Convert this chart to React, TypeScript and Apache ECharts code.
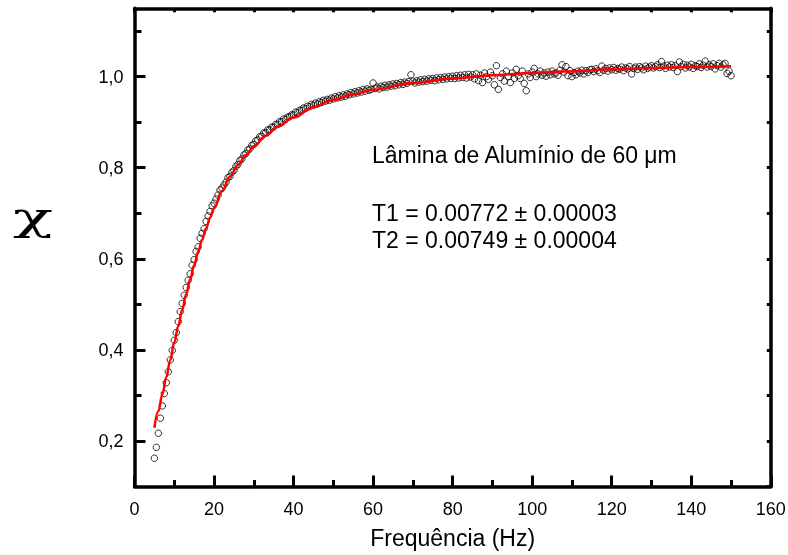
import React, { useEffect, useRef } from "react";
import * as echarts from "echarts";

// Measured susceptibility (χ) sampled every 0.5 Hz starting at 5 Hz
const freqStart = 5;
const freqStep = 0.5;
const chiValues = [
  0.162, 0.186, 0.217, 0.250, 0.277, 0.304, 0.328, 0.352, 0.378, 0.399,
  0.421, 0.438, 0.462, 0.484, 0.502, 0.520, 0.537, 0.553, 0.567, 0.586,
  0.598, 0.616, 0.626, 0.645, 0.656, 0.666, 0.682, 0.694, 0.704, 0.716,
  0.722, 0.731, 0.740, 0.751, 0.755, 0.762, 0.768, 0.778, 0.781, 0.790,
  0.794, 0.803, 0.807, 0.816, 0.819, 0.828, 0.831, 0.839, 0.841, 0.849,
  0.851, 0.859, 0.861, 0.868, 0.869, 0.876, 0.877, 0.883, 0.883, 0.889,
  0.889, 0.895, 0.895, 0.901, 0.901, 0.907, 0.906, 0.911, 0.912, 0.916,
  0.916, 0.922, 0.921, 0.926, 0.926, 0.931, 0.930, 0.935, 0.934, 0.939,
  0.937, 0.942, 0.940, 0.945, 0.943, 0.948, 0.946, 0.950, 0.948, 0.953,
  0.951, 0.956, 0.953, 0.958, 0.955, 0.960, 0.957, 0.962, 0.960, 0.965,
  0.962, 0.967, 0.964, 0.969, 0.966, 0.972, 0.968, 0.973, 0.970, 0.972,
  0.986, 0.974, 0.977, 0.973, 0.979, 0.976, 0.981, 0.977, 0.982, 0.979,
  0.984, 0.980, 0.985, 0.982, 0.987, 0.983, 0.988, 0.985, 0.989, 1.004,
  0.990, 0.986, 0.991, 0.988, 0.993, 0.989, 0.994, 0.990, 0.995, 0.992,
  0.996, 0.991, 0.997, 0.993, 0.998, 0.994, 0.999, 0.995, 1.000, 0.996,
  1.001, 0.996, 1.002, 0.997, 1.003, 0.998, 1.004, 0.997, 1.005, 0.999,
  1.004, 0.995, 1.006, 0.991, 1.003, 0.987, 1.008, 1.000, 0.994, 1.010,
  1.002, 0.982, 1.024, 0.972, 0.998, 1.006, 0.990, 1.012, 1.000, 0.987,
  1.008, 0.996, 1.016, 1.002, 0.996, 1.012, 0.985, 0.969, 1.006, 0.998,
  1.010, 1.018, 1.000, 1.006, 1.012, 1.003, 1.008, 1.001, 1.010, 1.004,
  1.012, 1.006, 1.008, 1.003, 1.014, 1.026, 1.010, 1.022, 1.002, 1.013,
  1.000, 1.009, 1.004, 1.012, 1.008, 1.014, 1.006, 1.013, 1.009, 1.015,
  1.016, 1.011, 1.017, 1.013, 1.009, 1.023, 1.014, 1.018, 1.012, 1.019,
  1.015, 1.020, 1.014, 1.018, 1.016, 1.021, 1.013, 1.019, 1.017, 1.022,
  1.006, 1.018, 1.021, 1.016, 1.022, 1.019, 1.015, 1.023, 1.018, 1.021,
  1.024, 1.019, 1.022, 1.026, 1.020, 1.033, 1.023, 1.018, 1.025, 1.021,
  1.026, 1.020, 1.024, 1.011, 1.032, 1.022, 1.027, 1.019, 1.025, 1.021,
  1.027, 1.018, 1.024, 1.022, 1.028, 1.020, 1.025, 1.034, 1.021, 1.026,
  1.022, 1.028, 1.017, 1.024, 1.029, 1.021, 1.026, 1.029, 1.007, 1.012,
  1.002,
];

// Fitted curve (red)
const fitFreq = [5, 6, 7, 8, 9, 10, 11, 12, 13, 14, 15, 16, 17, 18, 19, 20, 22, 24, 26, 28, 30, 33, 36, 40, 45, 50, 55, 60, 70, 80, 90, 100, 110, 120, 130, 140, 150];
const fitChi = [0.229, 0.265, 0.302, 0.340, 0.378, 0.416, 0.452, 0.488, 0.522, 0.555, 0.586, 0.615, 0.642, 0.667, 0.690, 0.711, 0.749, 0.780, 0.806, 0.828, 0.847, 0.870, 0.890, 0.910, 0.933, 0.949, 0.961, 0.971, 0.986, 0.996, 1.003, 1.008, 1.012, 1.016, 1.019, 1.021, 1.023];

// Axis ticks
const yMajorTicks = [0.2, 0.4, 0.6, 0.8, 1.0];
const yMinorTicks = [0.3, 0.5, 0.7, 0.9, 1.1];
const yAllTicks = [0.1, 0.2, 0.3, 0.4, 0.5, 0.6, 0.7, 0.8, 0.9, 1.0, 1.1];

const annotationLines = [
  "Lâmina de Alumínio de 60 μm",
  "T1 = 0.00772 ± 0.00003",
  "T2 = 0.00749 ± 0.00004",
];
const annotationY = [155, 213, 239.5];

const FONT = "Liberation Sans, Arial, Helvetica, sans-serif";

export default function App() {
  const ref = useRef<HTMLDivElement>(null);

  useEffect(() => {
    if (!ref.current) return;
    const chart = echarts.init(ref.current, undefined, { renderer: "svg" });

    const scatterData = chiValues.map((v, i) => [freqStart + i * freqStep, v]);
    const fitData = fitFreq.map((f, i) => [f, fitChi[i]]);

    const lineW = 3.5;
    const tickW = 3;
    const AXIS_Z = 20;

    const option: any = {
      animation: false,
      grid: { left: 134.5, right: 17.2, top: 8.3, bottom: 68.5, containLabel: false, outerBoundsMode: "none" },
      xAxis: [
        {
          type: "value",
          position: "bottom",
          z: AXIS_Z,
          min: 0,
          max: 160,
          interval: 20,
          axisLine: { show: true, onZero: false, lineStyle: { color: "#000", width: lineW } },
          axisTick: { show: true, inside: true, length: 11, lineStyle: { color: "#000", width: tickW } },
          minorTick: { show: true, splitNumber: 2, length: 6.5, lineStyle: { color: "#000", width: tickW } },
          axisLabel: { show: true, margin: 13, color: "#000", fontSize: 18, fontFamily: FONT },
          splitLine: { show: false },
          name: "Frequência (Hz)",
          nameLocation: "middle",
          nameGap: 40,
          nameTextStyle: { color: "#000", fontSize: 23, fontFamily: FONT },
        },
        {
          type: "value",
          position: "top",
          z: AXIS_Z,
          min: 0,
          max: 160,
          interval: 10,
          axisLine: { show: true, onZero: false, lineStyle: { color: "#000", width: lineW } },
          axisTick: { show: true, inside: true, length: 4, lineStyle: { color: "#000", width: tickW } },
          axisLabel: { show: false },
          splitLine: { show: false },
        },
      ],
      yAxis: [
        {
          type: "value",
          position: "left",
          z: AXIS_Z,
          min: 0.1,
          max: 1.15,
          axisLine: { show: true, onZero: false, lineStyle: { color: "#000", width: lineW } },
          axisTick: { show: true, inside: true, length: 11, customValues: yMajorTicks, lineStyle: { color: "#000", width: tickW } },
          axisLabel: {
            show: true,
            customValues: yMajorTicks,
            margin: 11,
            color: "#000",
            fontSize: 18,
            fontFamily: FONT,
            formatter: (v: number) => v.toFixed(1).replace(".", ","),
          },
          splitLine: { show: false },
        },
        {
          type: "value",
          position: "left",
          z: AXIS_Z,
          min: 0.1,
          max: 1.15,
          axisLine: { show: false, onZero: false },
          axisTick: { show: true, inside: true, length: 7, customValues: yMinorTicks, lineStyle: { color: "#000", width: tickW } },
          axisLabel: { show: false },
          splitLine: { show: false },
        },
        {
          type: "value",
          position: "right",
          z: AXIS_Z,
          min: 0.1,
          max: 1.15,
          axisLine: { show: true, onZero: false, lineStyle: { color: "#000", width: lineW } },
          axisTick: { show: true, inside: true, length: 4, customValues: yAllTicks, lineStyle: { color: "#000", width: tickW } },
          axisLabel: { show: false },
          splitLine: { show: false },
        },
      ],
      series: [
        {
          type: "scatter",
          xAxisIndex: 0,
          yAxisIndex: 0,
          data: scatterData,
          symbol: "circle",
          symbolSize: 6.5,
          itemStyle: { color: "rgba(255,255,255,0)", borderColor: "#000", borderWidth: 1 },
          z: 2,
        },
        {
          type: "line",
          xAxisIndex: 0,
          yAxisIndex: 0,
          data: fitData,
          showSymbol: false,
          smooth: 0.4,
          smoothMonotone: "x",
          lineStyle: { color: "#ff0000", width: 2.5 },
          z: 3,
        },
      ],
      graphic: [
        {
          type: "text",
          x: 33,
          y: 216,
          scaleX: 1.65,
          style: {
            text: "χ",
            fontSize: 40,
            fontFamily: "DejaVu Serif, serif",
            fill: "#000",
            align: "center",
            verticalAlign: "middle",
          },
        },
        ...annotationLines.map((t, i) => ({
          type: "text",
          x: 372,
          y: annotationY[i],
          style: {
            text: t,
            fontSize: 23,
            fontFamily: FONT,
            fill: "#000",
            align: "left",
            verticalAlign: "middle",
          },
        })),
      ],
    };

    chart.setOption(option);
    return () => chart.dispose();
  }, []);

  return (
    <div
      ref={ref}
      style={{ position: "fixed", left: 0, top: 0, width: 788, height: 555 }}
    />
  );
}
